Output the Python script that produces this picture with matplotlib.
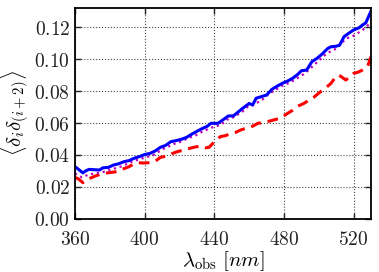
import matplotlib
matplotlib.use("Agg")
import matplotlib.pyplot as plt
from matplotlib.ticker import FormatStrFormatter

# blue solid line
blue_x = [360, 362, 364.5, 366, 368, 371, 374, 376, 379, 382, 385, 388, 391, 394, 397,
          400, 403, 406, 409, 412, 415, 418, 421, 424, 427, 430, 433, 436, 438, 442,
          445, 448, 451, 454, 457, 460, 462, 464, 467, 470, 473, 476, 479, 482, 485,
          488, 490, 493, 496, 499, 502, 505, 507, 510, 512, 514.5, 517, 520, 523, 525,
          527, 530]
blue_y = [0.0327, 0.031, 0.0288, 0.030, 0.031, 0.0308, 0.0306, 0.032, 0.0322, 0.0337,
          0.0345, 0.0358, 0.0365, 0.038, 0.039, 0.0403, 0.041, 0.0425, 0.0448, 0.046,
          0.0483, 0.049, 0.0498, 0.051, 0.053, 0.0548, 0.0565, 0.058, 0.0598, 0.0598,
          0.062, 0.0644, 0.0645, 0.0672, 0.0698, 0.0722, 0.0713, 0.0755, 0.0765, 0.0775,
          0.081, 0.083, 0.0848, 0.0862, 0.088, 0.0905, 0.0927, 0.0931, 0.0983, 0.1005,
          0.1032, 0.1065, 0.1077, 0.108, 0.1088, 0.114, 0.116, 0.1182, 0.1195, 0.1212,
          0.1227, 0.130]

# magenta dotted line
mag_x = [360, 362, 364, 366, 369, 372, 375, 378, 381, 384, 387, 390, 393, 396, 399,
         402, 405, 408, 411, 414, 417, 420, 423, 426, 429, 432, 435, 438, 441, 444,
         447, 450, 453, 456, 459, 462, 465, 468, 471, 474, 477, 480, 483, 486, 489,
         492, 495, 498, 501, 504, 507, 510, 513, 516, 519, 522, 525, 528, 530]
mag_y = [0.0285, 0.027, 0.026, 0.027, 0.028, 0.0285, 0.029, 0.030, 0.031, 0.032,
         0.033, 0.0345, 0.036, 0.037, 0.038, 0.039, 0.040, 0.042, 0.044, 0.0455,
         0.047, 0.048, 0.0495, 0.051, 0.052, 0.054, 0.0555, 0.057, 0.058, 0.059,
         0.062, 0.063, 0.065, 0.067, 0.070, 0.071, 0.073, 0.075, 0.078, 0.080,
         0.082, 0.084, 0.085, 0.087, 0.089, 0.091, 0.094, 0.097, 0.100, 0.103,
         0.105, 0.1065, 0.110, 0.113, 0.114, 0.116, 0.118, 0.121, 0.124]

# red dashed line
red_x = [360, 362, 364.5, 366.5, 368.5, 372, 376, 380, 384, 387, 391, 394, 396, 399,
         403, 406, 409, 413, 416, 418.5, 422, 426, 429, 432, 435, 437, 440, 443.5, 446,
         449, 452, 455, 459, 462, 465, 468, 471, 474, 478, 482, 485, 488, 491, 494,
         497, 501, 504, 507, 509.5, 511.5, 513.5, 515.5, 518, 520, 523, 525, 528, 530]
red_y = [0.026, 0.025, 0.0227, 0.0245, 0.0254, 0.027, 0.0285, 0.029, 0.0296, 0.031,
         0.0327, 0.0345, 0.0352, 0.035, 0.0352, 0.036, 0.0385, 0.0394, 0.041, 0.042,
         0.043, 0.0442, 0.045, 0.0456, 0.0445, 0.0448, 0.0483, 0.0515, 0.052, 0.0531,
         0.054, 0.0556, 0.057, 0.058, 0.0598, 0.0602, 0.061, 0.0619, 0.063, 0.066,
         0.068, 0.0706, 0.072, 0.074, 0.076, 0.0796, 0.082, 0.0848, 0.0885, 0.090,
         0.0885, 0.0869, 0.089, 0.091, 0.092, 0.0931, 0.0952, 0.1015]

x_ticks = [360, 400, 440, 480, 520]
y_ticks = [0.00, 0.02, 0.04, 0.06, 0.08, 0.10, 0.12]

plt.rcParams["mathtext.fontset"] = "cm"
plt.rcParams["font.size"] = 14

fig = plt.figure(figsize=(3.79, 2.72), dpi=100)
ax = fig.add_axes([0.198, 0.195, 0.781, 0.776])

ax.plot(red_x, red_y, "--", color="#ff0000", lw=2.2, dashes=(3.5, 2.2))
ax.plot(mag_x, mag_y, ":", color="#bf00bf", lw=1.6)
ax.plot(blue_x, blue_y, "-", color="#0000ff", lw=2.2)

ax.set_xlim(360, 530)
ax.set_ylim(0, 0.132)
ax.set_xticks(x_ticks)
ax.set_yticks(y_ticks)
ax.xaxis.set_major_formatter(FormatStrFormatter("$%d$"))
ax.yaxis.set_major_formatter(FormatStrFormatter("$%.2f$"))
ax.tick_params(direction="in", top=True, right=True, length=4, width=1, labelsize=14,
               colors="#222222")
ax.tick_params(axis="x", pad=8)
ax.grid(True, color="#444444", linestyle=":", lw=0.8)
for s in ax.spines.values():
    s.set_linewidth(1.3)

ax.set_xlabel(r"$\lambda_{\rm obs}\ [nm]$", fontsize=15, labelpad=0)
ax.set_ylabel(r"$\langle\delta_i\delta_{(i+2)}\rangle$", fontsize=15, labelpad=2)

fig.savefig("out.png", dpi=100)
